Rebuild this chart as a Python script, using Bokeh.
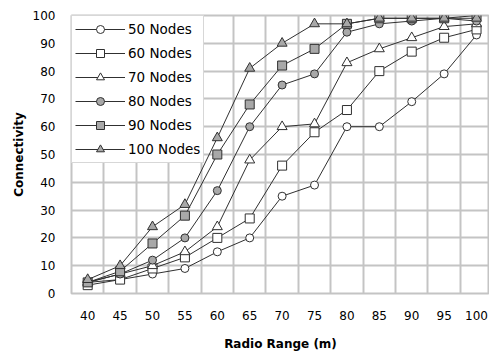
from bokeh.plotting import figure
from bokeh.models import FixedTicker, Range1d
from bokeh.embed import file_html
from bokeh.resources import INLINE

radio_range = [40, 45, 50, 55, 60, 65, 70, 75, 80, 85, 90, 95, 100]
nodes_50 = [4, 5, 7, 9, 15, 20, 35, 39, 60, 60, 69, 79, 93]
nodes_60 = [3, 5, 9, 13, 20, 27, 46, 58, 66, 80, 87, 92, 95]
nodes_70 = [4, 7, 10, 15, 24, 48, 60, 61, 83, 88, 92, 96, 97]
nodes_80 = [4, 7, 12, 20, 37, 60, 75, 79, 94, 97, 98, 99, 98]
nodes_90 = [4, 8, 18, 28, 50, 68, 82, 88, 97, 99, 99, 99, 100]
nodes_100 = [5, 10, 24, 32, 56, 81, 90, 97, 97, 99, 99, 99, 99]
series_labels = ["50 Nodes", "60 Nodes", "70 Nodes", "80 Nodes", "90 Nodes", "100 Nodes"]
x_ticks = [40, 45, 50, 55, 60, 65, 70, 75, 80, 85, 90, 95, 100]
y_ticks = [0, 10, 20, 30, 40, 50, 60, 70, 80, 90, 100]

series = [nodes_50, nodes_60, nodes_70, nodes_80, nodes_90, nodes_100]
markers = ["circle", "square", "triangle", "circle", "square", "triangle"]
sizes = [8, 9, 10, 8, 9, 10]
fills = ["white", "white", "white", "#a8a8a8", "#a8a8a8", "#a8a8a8"]

p = figure(frame_width=418, frame_height=278, output_backend="svg", toolbar_location=None,
           x_range=Range1d(37.5, 102.0), y_range=Range1d(0, 100),
           min_border_left=71, min_border_right=0, min_border_top=15, min_border_bottom=40,
           background_fill_color="white", border_fill_color="white")

for data, lab, mk, sz, fc in zip(series, series_labels, markers, sizes, fills):
    p.line(radio_range, data, line_color="#303030", line_width=1, legend_label=lab)
    p.scatter(radio_range, data, marker=mk, size=sz, fill_color=fc,
              line_color="#303030", line_width=1, legend_label=lab)

p.xaxis.ticker = FixedTicker(ticks=x_ticks)
p.yaxis.ticker = FixedTicker(ticks=y_ticks)
p.xgrid.ticker = FixedTicker(ticks=[t + 2.5 for t in x_ticks[:-1]])
p.ygrid.ticker = FixedTicker(ticks=y_ticks)
for g in (p.xgrid, p.ygrid):
    g.grid_line_color = "#c4c4c4"
    g.grid_line_width = 2

p.outline_line_color = "#c4c4c4"
p.outline_line_width = 2

for ax in (p.xaxis, p.yaxis):
    ax.axis_line_color = None
    ax.major_tick_line_color = None
    ax.minor_tick_line_color = None
    ax.major_label_text_font = "DejaVu Sans"
    ax.major_label_text_font_size = "12px"
    ax.major_label_text_color = "black"
    ax.axis_label_text_font = "DejaVu Sans"
    ax.axis_label_text_font_size = "12px"
    ax.axis_label_text_font_style = "bold"
    ax.axis_label_text_color = "black"

p.xaxis.axis_label = "Radio Range (m)"
p.yaxis.axis_label = "Connectivity"
p.xaxis.major_label_standoff = 11
p.yaxis.major_label_standoff = 10
p.xaxis.axis_label_standoff = 14
p.yaxis.axis_label_standoff = 4

lg = p.legend[0]
lg.location = "top_left"
lg.margin = 0
lg.padding = 3
lg.spacing = 4
lg.glyph_width = 50
lg.glyph_height = 20
lg.label_height = 20
lg.label_standoff = 3
lg.label_text_font = "DejaVu Sans"
lg.label_text_font_size = "13.5px"
lg.label_text_color = "black"
lg.border_line_color = "#b0b0b0"
lg.border_line_width = 1
lg.background_fill_color = "white"
lg.background_fill_alpha = 1.0

open("out.html", "w").write(file_html(p, INLINE))
